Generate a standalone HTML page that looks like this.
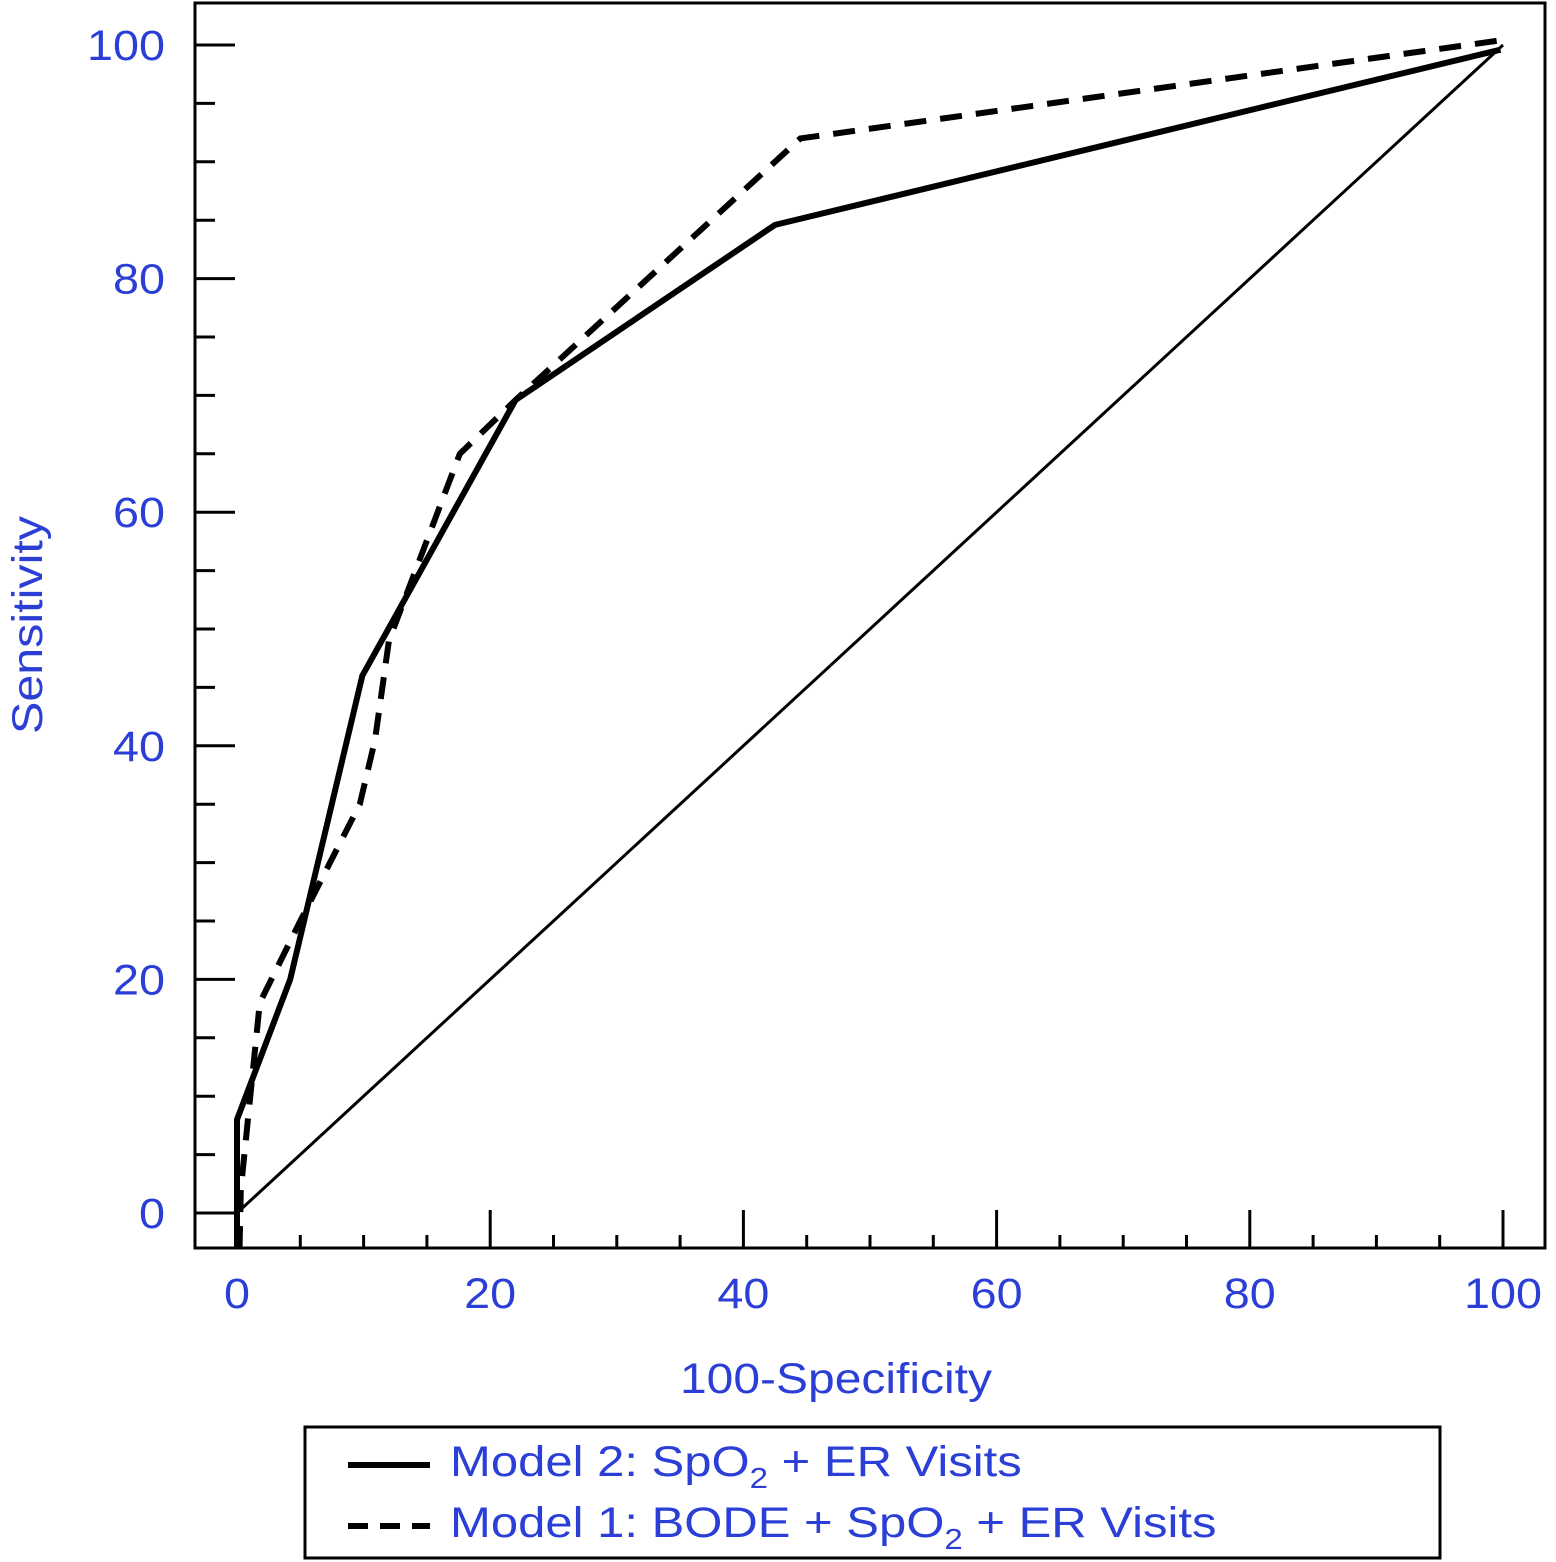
<!DOCTYPE html>
<html><head><meta charset="utf-8"><style>
html,body{margin:0;padding:0;background:#fff;}
svg{display:block;}
text{font-family:"Liberation Sans",Arial,sans-serif;fill:#2b3fd6;}
</style></head><body>
<svg id="chart" width="1556" height="1562" viewBox="0 0 1556 1562">
<rect x="195" y="3" width="1350" height="1245" fill="none" stroke="#000" stroke-width="3"/>
<g id="axes"></g>
<g id="series"></g>
<text x="836" y="1393" font-size="43" text-anchor="middle" textLength="312" lengthAdjust="spacingAndGlyphs">100-Specificity</text>
<text transform="translate(42,625) rotate(-90)" font-size="43" text-anchor="middle" textLength="218" lengthAdjust="spacingAndGlyphs">Sensitivity</text>
<g>
<rect x="305" y="1427" width="1135" height="131" fill="none" stroke="#000" stroke-width="3"/>
<line x1="348" y1="1465" x2="430" y2="1465" stroke="#000" stroke-width="6"/>
<g transform="translate(450,1476) scale(1.14,1)"><text x="0" y="0" font-size="43">Model 2: SpO<tspan font-size="29" dy="12">2</tspan><tspan dy="-12"> + ER Visits</tspan></text></g>
<line x1="348" y1="1526" x2="430" y2="1526" stroke="#000" stroke-width="6" stroke-dasharray="20,12"/>
<g transform="translate(450,1537) scale(1.14,1)"><text x="0" y="0" font-size="43">Model 1: BODE + SpO<tspan font-size="29" dy="12">2</tspan><tspan dy="-12"> + ER Visits</tspan></text></g>
</g>
</svg>
<script>
const xTicks=[0,20,40,60,80,100];
const yTicks=[0,20,40,60,80,100];
const model2X=[0,0,4.2,9.9,22,42.5,99.8];
const model2Y=[-3,8,20,46,69.6,84.6,99.6];
const model1X=[0.2,0.3,1.8,5,9.7,10.9,12,17.6,22,44.5,99.8];
const model1Y=[-3,2,18,25,35,40.5,49,65,69.6,92,100.4];
const refX=[0,100];
const refY=[0,100];
const sx=v=>237+v*12.66;
const sy=v=>1213-v*11.68;
const NS="http://www.w3.org/2000/svg";
const axes=document.getElementById('axes');
const series=document.getElementById('series');
function mk(tag,attrs,parent){const e=document.createElementNS(NS,tag);for(const k in attrs)e.setAttribute(k,attrs[k]);parent.appendChild(e);return e;}
for(let v=0;v<=100;v+=5){
  const major=v%20===0;
  const t=mk('line',{x1:sx(v),x2:sx(v),y1:1248,y2:major?1210:1235,stroke:'#000','stroke-width':3},axes);
  
  
  const u=mk('line',{x1:195,x2:major?235:215,y1:sy(v),y2:sy(v),stroke:'#000','stroke-width':3},axes);
  
  
}
function lenFor(v){return String(v).length*26;}
xTicks.forEach(v=>{
  const t=mk('text',{x:sx(v),y:1308,'font-size':43,'text-anchor':'middle',textLength:lenFor(v),lengthAdjust:'spacingAndGlyphs'},axes);
  t.textContent=v;
  
  
});
yTicks.forEach(v=>{
  const t=mk('text',{x:165,y:sy(v)+15,'font-size':43,'text-anchor':'end',textLength:lenFor(v),lengthAdjust:'spacingAndGlyphs'},axes);
  t.textContent=v;
  
  
});
function pts(xs,ys){return xs.map((x,i)=>sx(x)+','+sy(ys[i])).join(' ');}
const r=mk('polyline',{points:pts(refX,refY),fill:'none',stroke:'#000','stroke-width':3},series);


const m2=mk('polyline',{points:pts(model2X,model2Y),fill:'none',stroke:'#000','stroke-width':6,'stroke-linejoin':'round'},series);


const m1=mk('polyline',{points:pts(model1X,model1Y),fill:'none',stroke:'#000','stroke-width':6,'stroke-dasharray':'22,14'},series);


</script>
</body></html>
